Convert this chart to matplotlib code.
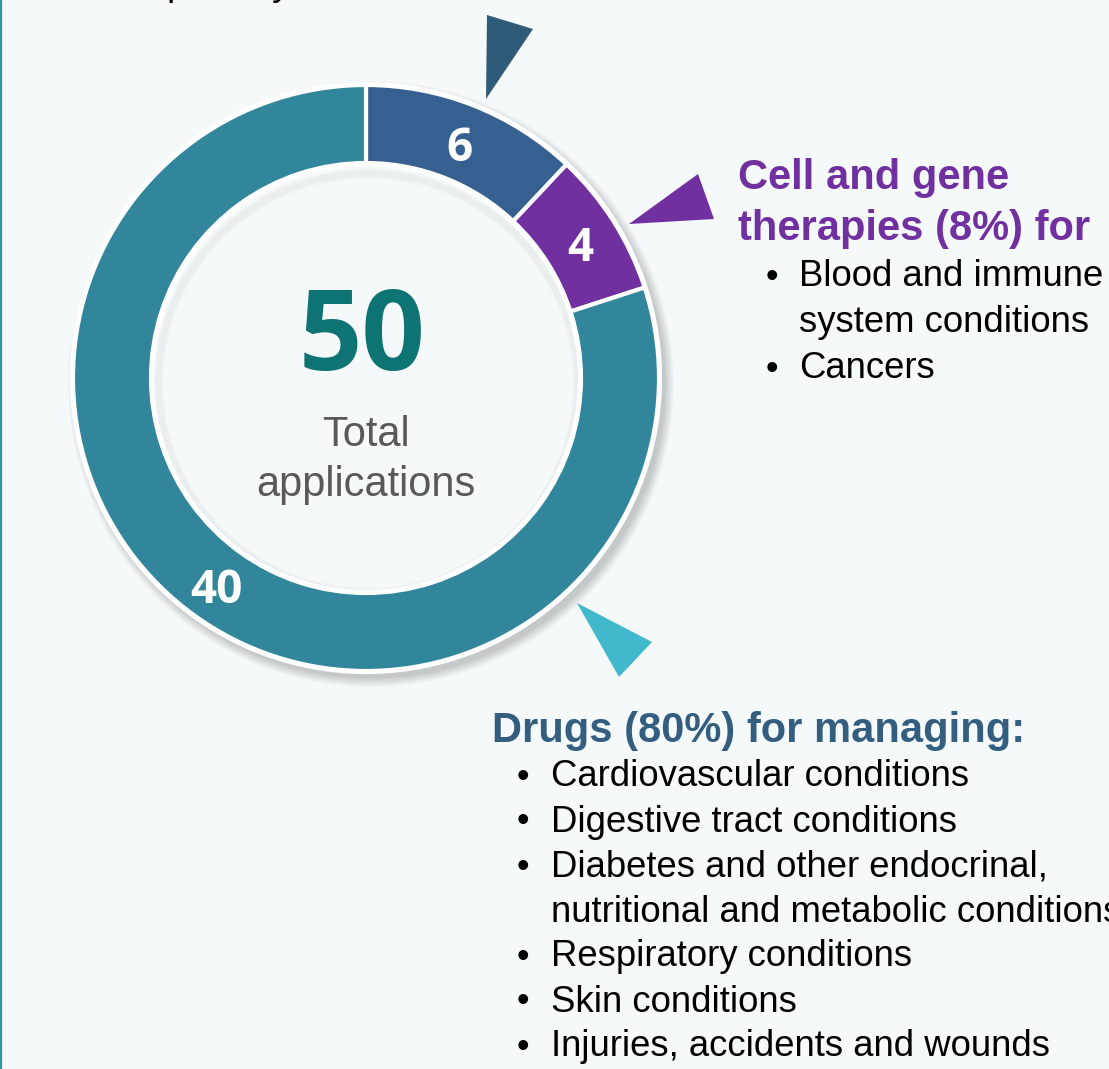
import matplotlib
matplotlib.use("Agg")
import matplotlib.pyplot as plt
from matplotlib.patches import Polygon, Circle

plt.rcParams['font.family'] = ['Liberation Sans', 'DejaVu Sans']

# ---- data ----
categories = ["Other", "Cell and gene therapies", "Drugs"]
values = [6, 4, 40]
total = 50
seg_colors = ["#36608F", "#7030A0", "#31869B"]
pointer_colors = ["#2F5B78", "#7030A0", "#41B8CC"]
cell_items = ["Blood and immune\nsystem conditions", "Cancers"]
drug_items = ["Cardiovascular conditions", "Digestive tract conditions",
              "Diabetes and other endocrinal,\nnutritional and metabolic conditions",
              "Respiratory conditions", "Skin conditions",
              "Injuries, accidents and wounds"]

BG = "#F5F9FA"
W, H = 1109, 1069
fig = plt.figure(figsize=(W / 100, H / 100), dpi=100)
fig.patch.set_facecolor(BG)
ax = fig.add_axes([0, 0, 1, 1])
ax.set_xlim(0, W)
ax.set_ylim(0, H)
ax.set_aspect("equal")
ax.axis("off")

def Y(py):
    return H - py

cx, cy = 366, Y(378)
R_out, R_in = 293, 215
NUMFONT = ['Open Sans', 'DejaVu Sans']

# left border
ax.plot([0.8, 0.8], [0, H], color="#2E9A9A", lw=1.6, solid_capstyle="butt",
        zorder=10)

# outer shadow
for i in range(10):
    ax.add_patch(Circle((cx + 5, cy - 6), R_out + 10 - i, color="#000000",
                        alpha=0.018, lw=0, zorder=1))

lab_size = 33
wedges, texts, autotexts = ax.pie(
    values, colors=seg_colors, startangle=90, counterclock=False,
    center=(cx, cy), radius=R_out, frame=True,
    wedgeprops=dict(width=R_out - R_in, edgecolor="white", linewidth=3),
    autopct=lambda p: f"{round(p * total / 100)}",
    pctdistance=(R_out + R_in) / 2 / R_out,
    textprops=dict(color="white", fontsize=lab_size, fontweight="bold",
                   family=NUMFONT))
for w in wedges:
    w.set_zorder(3)
cap = 0.714 * lab_size * 100 / 72
for t in autotexts:
    t.set_zorder(5)
    x0, y0 = t.get_position()
    t.set_verticalalignment("baseline")
    t.set_position((x0, y0 - 3 - cap / 2))
ax.set_xlim(0, W)
ax.set_ylim(0, H)
ax.axis("off")

ax.add_patch(Circle((cx, cy), R_out + 1, fill=False, ec="white", lw=3, zorder=4))
# hole: background fill, soft inner shadow, white edge
ax.add_patch(Circle((cx, cy), R_in, fc=BG, ec="none", zorder=2))
for i in range(8):
    ax.add_patch(Circle((cx + 2, cy - 5), R_in - 2 - i, fill=False,
                        ec="#000000", alpha=0.015, lw=2, zorder=2.5))
ax.add_patch(Circle((cx, cy), R_in - 1, fill=False, ec="white", lw=3, zorder=4))

# pointer triangles
tris = [
    [(487, 15), (533, 29), (486, 99)],
    [(698, 174), (714, 219), (629, 224)],
    [(577, 603), (652, 642), (619, 677)],
]
for tri, c in zip(tris, pointer_colors):
    ax.add_patch(Polygon([(x, Y(y)) for x, y in tri], closed=True, fc=c,
                         ec="none", zorder=5))

# centre text
ax.text(cx - 4, Y(370), f"{total}", ha="center", va="baseline", fontsize=80,
        fontweight="bold", color="#0E7373", family=NUMFONT, zorder=6)
ax.text(cx, Y(435), "Total", ha="center", va="center", fontsize=30,
        color="#595959", zorder=6)
ax.text(cx, Y(485), "applications", ha="center", va="center", fontsize=30,
        color="#595959", zorder=6)

# cut-off text at top (only descenders visible)
ax.text(167, Y(-5), "primary", ha="left", va="baseline",
        fontsize=27, color="#000000")

# cell and gene heading
ax.text(738, Y(178), "Cell and gene", ha="left", va="center", fontsize=30,
        fontweight="bold", color="#7030A0")
ax.text(738, Y(229), "therapies (8%) for", ha="left", va="center", fontsize=30,
        fontweight="bold", color="#7030A0")
yy = 277
for item in cell_items:
    ax.text(766, Y(yy), "•", ha="left", va="center", fontsize=26, color="black")
    for k, line in enumerate(item.split("\n")):
        ax.text(799, Y(yy + 46 * k), line, ha="left", va="center", fontsize=26.3,
                color="black")
    yy += 46 * (item.count("\n") + 1)

# drugs heading
ax.text(492, Y(731), "Drugs (80%) for managing:", ha="left", va="center",
        fontsize=30, fontweight="bold", color="#335E80")
yy = 777
for item in drug_items:
    ax.text(517, Y(yy), "•", ha="left", va="center", fontsize=26, color="black")
    for k, line in enumerate(item.split("\n")):
        ax.text(551, Y(yy + 45 * k), line, ha="left", va="center", fontsize=26.3,
                color="black")
    yy += 45 * (item.count("\n") + 1)

fig.savefig("out.png", dpi=100, facecolor=fig.get_facecolor())
